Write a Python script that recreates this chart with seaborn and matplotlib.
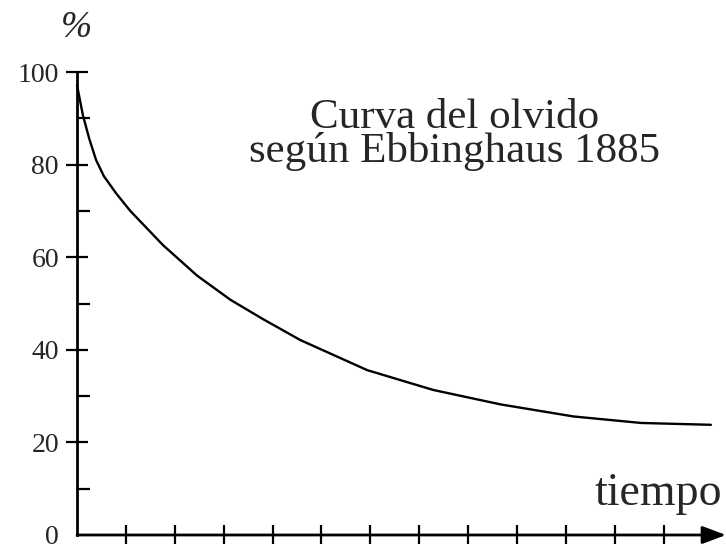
import matplotlib
matplotlib.use("Agg")
import matplotlib.pyplot as plt
import seaborn as sns
import pandas as pd

# Data
tiempo = [0, 0.12, 0.25, 0.39, 0.55, 0.80, 1.09, 1.76, 2.46, 3.14, 3.81,
          4.57, 5.94, 6.76, 7.30, 8.67, 10.16, 11.54, 12.97]
retencion = [97.2, 90.7, 85.6, 81.0, 77.5, 73.8, 70.0, 62.6, 56.0, 50.8, 46.6,
             42.1, 35.6, 33.0, 31.3, 28.2, 25.6, 24.2, 23.8]
y_major = [0, 20, 40, 60, 80, 100]
y_minor = [10, 30, 50, 70, 90]
x_ticks = list(range(1, 13))

sns.set_theme(style="white")
plt.rcParams['font.family'] = ['Liberation Serif', 'DejaVu Serif']

W, H = 726, 544
fig = plt.figure(figsize=(W / 100, H / 100), dpi=100)
x0, y0 = 77, 535
x_unit = 48.8
xmax = (725 - x0) / x_unit
top = 72
ax = fig.add_axes([x0 / W, (H - y0) / H, (W - x0) / W, (y0 - top) / H])

df = pd.DataFrame({"t": tiempo, "r": retencion})
sns.lineplot(data=df, x="t", y="r", color="black", linewidth=1.7, ax=ax,
             clip_on=False)

ax.set_xlim(0, xmax)
ax.set_ylim(0, 100)
ax.set_xlabel("")
ax.set_ylabel("")

for s in ["top", "right", "bottom"]:
    ax.spines[s].set_visible(False)
ax.spines["left"].set_linewidth(2.0)
ax.spines["left"].set_color("black")

ax.set_yticks(y_major)
ax.set_yticklabels([str(v) for v in y_major])
ax.set_yticks(y_minor, minor=True)
ax.set_xticks(x_ticks)
ax.set_xticklabels([])

ax.tick_params(axis="y", which="major", direction="inout", length=16,
               width=1.6, color="black", labelsize=20, pad=5, left=True)
ax.tick_params(axis="y", which="minor", direction="in", length=9,
               width=1.6, color="black", left=True)
ax.tick_params(axis="x", which="major", direction="inout", length=15,
               width=1.6, color="black", bottom=True)
ax.yaxis.get_major_ticks()[0].tick1line.set_visible(False)

# x axis with arrow
ax.annotate("", xy=(xmax, 0), xytext=(0, 0), xycoords="data",
            textcoords="data", annotation_clip=False,
            arrowprops=dict(arrowstyle="-|>,head_length=0.8,head_width=0.3",
                            mutation_scale=18, color="black", lw=2.0,
                            shrinkA=0, shrinkB=0))

fig.text(76 / W, 1 - 28 / H, "%", fontsize=27, style="italic",
         ha="center", va="center")
fig.text(455 / W, 1 - 162 / H, "Curva del olvido\nsegún Ebbinghaus 1885",
         fontsize=31, ha="center", va="baseline", multialignment="center",
         linespacing=0.82)
fig.text(658 / W, 1 - 505 / H, "tiempo", fontsize=33,
         ha="center", va="baseline")

fig.savefig("out.png", dpi=100, facecolor="white")
